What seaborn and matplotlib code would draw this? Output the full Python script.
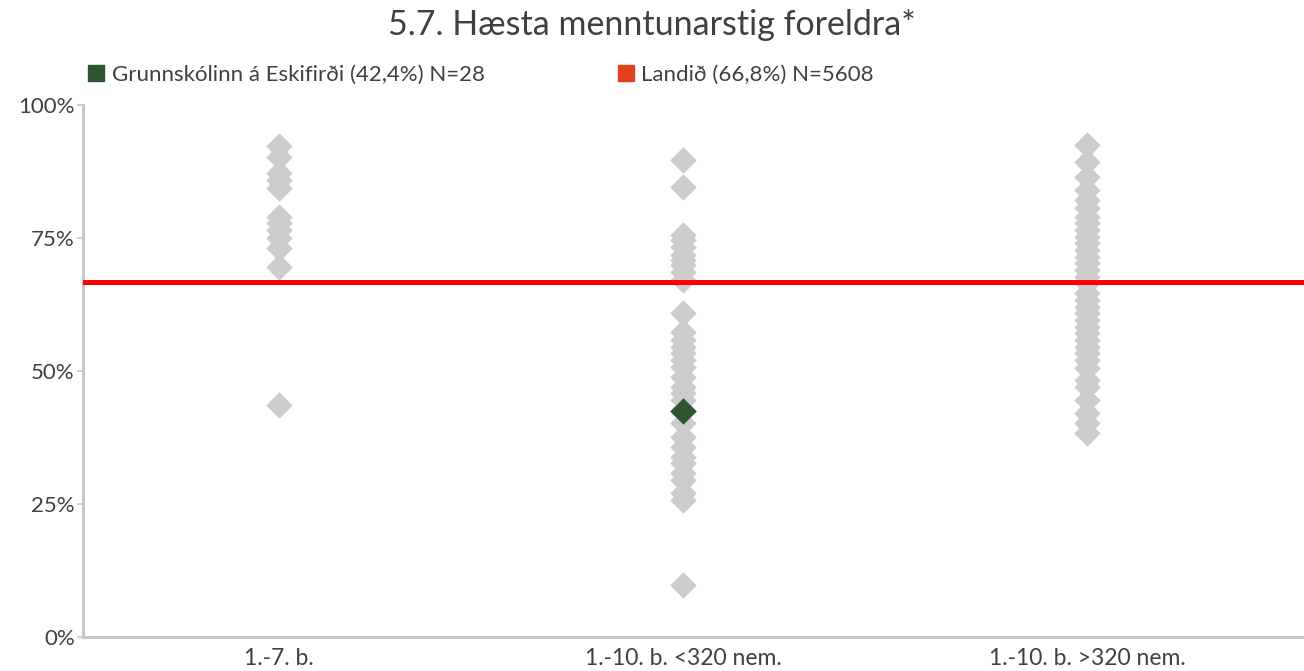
import pandas as pd
import matplotlib
matplotlib.use("Agg")
import matplotlib.pyplot as plt
from matplotlib.lines import Line2D
import seaborn as sns

# categories on the x axis
groups = ["1.-7. b.", "1.-10. b. <320 nem.", "1.-10. b. >320 nem."]

# share (%) per school
small_schools = [92.3, 90.2, 87.2, 85.9, 84.4, 78.9, 77.8, 76.5, 75.0, 73.1, 69.5, 43.6]
mid_schools = [89.7, 84.6, 75.6, 74.6, 73.3, 71.8, 70.9, 69.9, 68.6, 67.1, 60.9,
               57.3, 55.8, 54.5, 53.4, 52.1, 50.8, 48.9, 47.0, 45.9, 44.5, 42.4,
               40.2, 37.6, 35.7, 33.8, 32.7, 30.8, 29.5, 27.1, 25.8, 9.8]
large_schools = [92.5, 89.3, 86.5, 84.0, 82.1, 80.6, 78.9, 77.8, 76.5, 75.2, 74.1,
                 72.7, 71.4, 70.3, 69.0, 67.7, 66.5, 64.7, 63.3, 62.0, 60.9, 59.6,
                 58.3, 57.1, 55.8, 54.5, 53.4, 52.1, 50.6, 48.3, 47.0, 44.5, 42.1,
                 40.2, 38.3]

school_name = "Grunnskólinn á Eskifirði"
school_group = "1.-10. b. <320 nem."
school_value = 42.4
school_n = 28
national_value = 66.8
national_n = 5608

GRAY = "#cccccc"
GREEN = "#2e5430"
RED = "#ff0000"
LEGEND_RED = "#e2401c"
TEXT = "#404040"
AXIS = "#c8c8c8"


def main():
    df = pd.DataFrame({
        "group": [groups[0]] * len(small_schools) + [groups[1]] * len(mid_schools)
                 + [groups[2]] * len(large_schools),
        "value": small_schools + mid_schools + large_schools,
    })
    df["value"] = df["value"] / 100
    school = pd.DataFrame({"group": [school_group], "value": [school_value / 100]})

    sns.set_style("white")
    plt.rcParams["font.family"] = ["Lato", "DejaVu Sans"]

    fig = plt.figure(figsize=(13.04, 6.71), dpi=100)
    ax = fig.add_axes([0.0637, 0.0507, 0.9363, 0.7928])

    sns.stripplot(data=df, x="group", y="value", order=groups, jitter=False,
                  color=GRAY, marker="D", size=13.5, linewidth=0, ax=ax, zorder=2)
    ax.axhline(national_value / 100, color=RED, lw=3.6, zorder=3)
    sns.stripplot(data=school, x="group", y="value", order=groups, jitter=False,
                  color=GREEN, marker="D", size=13.5, linewidth=0, ax=ax, zorder=4)

    ax.set_xlim(-0.485, 2.537)
    ax.set_ylim(0, 1)
    ax.set_yticks([0, 0.25, 0.5, 0.75, 1.0])
    ax.set_yticklabels(["0%", "25%", "50%", "75%", "100%"])
    ax.set_xlabel("")
    ax.set_ylabel("")
    ax.tick_params(axis="y", length=4, width=1.2, color=AXIS, labelsize=16,
                   labelcolor=TEXT, pad=2, left=True)
    ax.tick_params(axis="x", length=0, labelsize=16.5, labelcolor=TEXT, pad=8)
    for side in ["top", "right"]:
        ax.spines[side].set_visible(False)
    for side in ["left", "bottom"]:
        ax.spines[side].set_color(AXIS)
        ax.spines[side].set_linewidth(2.2)

    fig.text(0.5, 0.962, "5.7. Hæsta menntunarstig foreldra*", ha="center",
             va="center", fontsize=24.5, color=TEXT)

    handles = [
        Line2D([], [], marker="s", ls="", color=GREEN, markersize=12),
        Line2D([], [], marker="s", ls="", color=LEGEND_RED, markersize=12),
    ]
    labels = [
        f"{school_name} ({str(school_value).replace('.', ',')}%) N={school_n}",
        f"Landið ({str(national_value).replace('.', ',')}%) N={national_n}",
    ]
    fig.legend(handles, labels, ncol=2, loc="center left",
               bbox_to_anchor=(0.066, 0.888), frameon=False, fontsize=16,
               labelcolor=TEXT, handletextpad=0.25, columnspacing=5.9,
               handlelength=0.9, borderaxespad=0, borderpad=0)

    fig.savefig("out.png", dpi=100)
    plt.close(fig)


if __name__ == "__main__":
    main()
